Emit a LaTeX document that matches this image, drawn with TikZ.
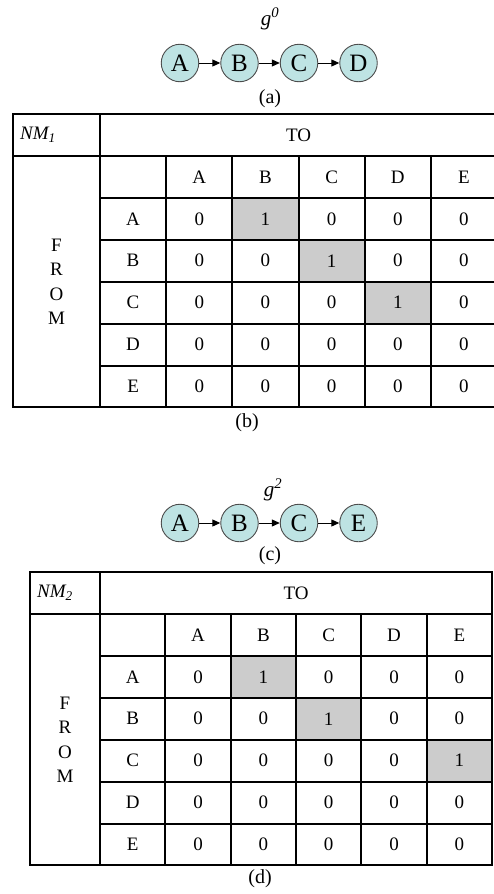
\documentclass[tikz,border=0pt]{standalone}
\usepackage{fontspec}
\setmainfont{Liberation Serif}
\usetikzlibrary{arrows.meta}

\definecolor{nodecyan}{RGB}{190,227,227}
\definecolor{cellgray}{RGB}{204,204,204}

\tikzset{
  vtx/.style={circle, draw=black!70, line width=0.9pt, fill=nodecyan,
    minimum size=37.5pt, inner sep=0pt, font=\fontsize{25}{25}\selectfont},
  link/.style={-{Triangle[length=8pt,width=7pt]}, line width=1pt},
  gridline/.style={line width=2pt},
  cell/.style={inner sep=0pt, font=\fontsize{19}{19}\selectfont},
  hot/.style={fill=cellgray},
  caption/.style={inner sep=0pt, font=\fontsize{20}{20}\selectfont},
  graphname/.style={inner sep=0pt, font=\fontsize{21}{21}\selectfont},
  fromlabel/.style={inner sep=0pt, align=center,
    font=\fontsize{19}{24.5}\selectfont}
}

% #1 name prefix, #2 top, #3 left, #4 right, #5 matrix name,
% #6 list of row index / row letter / column holding the one
\newcommand\adjtable[6]{%
  \pgfmathsetmacro\tT{#2}%
  \pgfmathsetmacro\tL{#3}%
  \pgfmathsetmacro\tR{#4}%
  \pgfmathsetmacro\cw{(\tR-100)/6}%
  \pgfmathsetmacro\rh{41.9}%
  \pgfmathsetmacro\tH{\tT+42}%
  \pgfmathsetmacro\tB{\tT+42+6*\rh}%
  % shaded entries
  \foreach \ri/\lab/\hc in {#6} {%
    \ifnum\hc>0
      \fill[hot] ({100+\hc*\cw},{\tH+\ri*\rh}) rectangle ++(\cw,\rh);
    \fi
  }
  % rules
  \draw[gridline] (\tL,\tT) rectangle (\tR,\tB);
  \draw[gridline] (\tL,\tH) -- (\tR,\tH);
  \draw[gridline] (100,\tT) -- (100,\tB);
  \foreach \k in {1,...,5} {
    \draw[gridline] (100,{\tH+\k*\rh}) -- (\tR,{\tH+\k*\rh});
    \draw[gridline] ({100+\k*\cw},\tH) -- ({100+\k*\cw},\tB);
  }
  % headings
  \node[cell, anchor=west] (#1name) at ({\tL+7},{\tT+21}) {\textit{#5}};
  \node[cell] (#1to) at ({(100+\tR)/2},{\tT+21}) {TO};
  \node[fromlabel] (#1from) at ({(\tL+100)/2},{(\tH+\tB)/2}) {F\\R\\O\\M};
  \foreach \cj/\lab in {1/A,2/B,3/C,4/D,5/E} {
    \node[cell] (#1col\cj) at ({100+(\cj+0.5)*\cw},{\tH+0.5*\rh}) {\lab};
  }
  % rows and entries
  \foreach \ri/\lab/\hc in {#6} {
    \node[cell] (#1row\ri) at ({100+0.5*\cw},{\tH+(\ri+0.5)*\rh}) {\lab};
    \foreach \cj in {1,...,5} {
      \pgfmathtruncatemacro\val{\cj==\hc ? 1 : 0}%
      \node[cell] (#1v\ri\cj) at ({100+(\cj+0.5)*\cw},{\tH+(\ri+0.5)*\rh}) {\val};
    }
  }
}

\begin{document}
\begin{tikzpicture}[x=1pt, y=-1pt]
  \useasboundingbox (0,0) rectangle (493,894);

  % graph g^0
  \node[graphname] (g0) at (270,19) {\textit{g}\textsuperscript{\textit{0}}};
  \node[vtx] (a1) at (180,63) {A};
  \node[vtx] (b1) at (239.5,63) {B};
  \node[vtx] (c1) at (299,63) {C};
  \node[vtx] (d1) at (358.5,63) {D};
  \draw[link] (a1) -- (b1);
  \draw[link] (b1) -- (c1);
  \draw[link] (c1) -- (d1);
  \node[caption] (capa) at (270,99) {(a)};

  % matrix NM_1
  \adjtable{m1}{114}{13}{497}{NM\textsubscript{1}}{1/A/2,2/B/3,3/C/4,4/D/0,5/E/0}
  \node[caption] (capb) at (247,423) {(b)};

  % graph g^2
  \node[graphname] (g2) at (273,490) {\textit{g}\textsuperscript{\textit{2}}};
  \node[vtx] (a2) at (180,523) {A};
  \node[vtx] (b2) at (239.5,523) {B};
  \node[vtx] (c2) at (299,523) {C};
  \node[vtx] (e2) at (358.5,523) {E};
  \draw[link] (a2) -- (b2);
  \draw[link] (b2) -- (c2);
  \draw[link] (c2) -- (e2);
  \node[caption] (capc) at (270,556) {(c)};

  % matrix NM_2
  \adjtable{m2}{572}{30}{492}{NM\textsubscript{2}}{1/A/2,2/B/3,3/C/5,4/D/0,5/E/0}
  \node[caption] (capd) at (260,879) {(d)};
\end{tikzpicture}
\end{document}
